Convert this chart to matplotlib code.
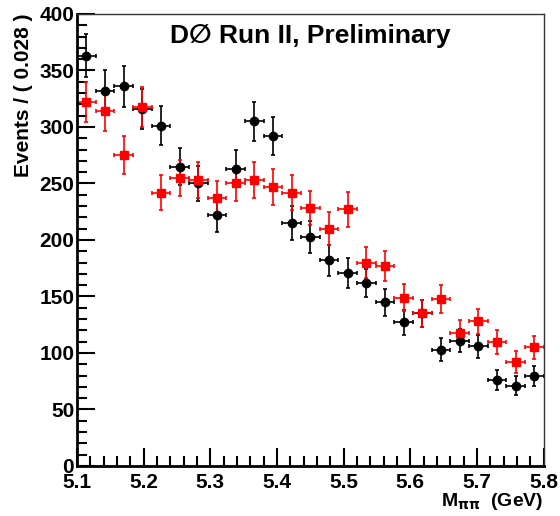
import numpy as np
import matplotlib
matplotlib.use("Agg")
import matplotlib.pyplot as plt
import matplotlib.ticker as mticker

plt.rcParams['font.family'] = ['Liberation Sans', 'DejaVu Sans']

bin_width = 0.028
x_centers = [5.114, 5.142, 5.170, 5.198, 5.226, 5.254, 5.282, 5.310, 5.338,
             5.366, 5.394, 5.422, 5.450, 5.478, 5.506, 5.534, 5.562, 5.590,
             5.618, 5.646, 5.674, 5.702, 5.730, 5.758, 5.786]

# черные точки
black_y = [363, 332, 336, 316, 301, 265, 250, 222, 263, 305, 292, 215, 203,
           182, 171, 162, 145, 127, 135, 103, 111, 106, 76, 71, 80]
black_err = [19.1, 18.2, 18.3, 17.8, 17.3, 16.3, 15.8, 14.9, 16.2, 17.5, 17.1,
             14.7, 14.2, 13.5, 13.1, 12.7, 12.0, 11.3, 11.6, 10.1, 10.5, 10.3,
             8.7, 8.4, 8.9]

# красные точки
red_y = [322, 314, 275, 318, 242, 255, 253, 237, 250, 253, 247, 242, 228,
         210, 227, 180, 177, 149, 135, 148, 118, 128, 110, 92, 105]
red_err = [17.9, 17.7, 16.6, 17.8, 15.6, 16.0, 15.9, 15.4, 15.8, 15.9, 15.7,
           15.6, 15.1, 14.5, 15.1, 13.4, 13.3, 12.2, 11.6, 12.2, 10.9, 11.3,
           10.5, 9.6, 10.2]

fig = plt.figure(figsize=(5.6, 5.16), dpi=100)
ax = fig.add_axes([0.1375, 0.0969, 0.8335, 0.876])

ax.errorbar(x_centers, black_y, yerr=black_err, xerr=bin_width / 2,
            fmt="o", color="black", ecolor="black", markersize=6,
            elinewidth=1.2, capsize=1.5, capthick=1.2)
ax.errorbar(x_centers, red_y, yerr=red_err, xerr=bin_width / 2,
            fmt="s", color="red", ecolor="red", markersize=6,
            elinewidth=1.2, capsize=1.5, capthick=1.2)

ax.set_xlim(5.1, 5.8)
ax.set_ylim(0, 400)

ax.xaxis.set_major_locator(mticker.MultipleLocator(0.1))
ax.xaxis.set_minor_locator(mticker.MultipleLocator(0.02))
ax.yaxis.set_major_locator(mticker.MultipleLocator(50))
ax.yaxis.set_minor_locator(mticker.MultipleLocator(10))
ax.xaxis.set_major_formatter(mticker.FormatStrFormatter("%.1f"))

ax.tick_params(which="both", direction="in", top=False, right=False,
               width=1.5, labelsize=15)
ax.tick_params(which="major", length=13)
ax.tick_params(which="minor", length=7)
ax.tick_params(axis="x", pad=5)
ax.tick_params(axis="y", pad=2)
for lab in ax.get_xticklabels() + ax.get_yticklabels():
    lab.set_fontweight("bold")

ax.spines["left"].set_linewidth(2)
ax.spines["bottom"].set_linewidth(2)
ax.spines["top"].set_linewidth(1)
ax.spines["right"].set_linewidth(1)
ax.spines["top"].set_color("#333333")
ax.spines["right"].set_color("#333333")

ax.set_ylabel("Events / ( 0.028 )", fontsize=15, fontweight="bold")
ax.yaxis.set_label_coords(-0.095, 1.0)
ax.yaxis.label.set_horizontalalignment("right")

ax.set_xlabel(r"M$_{\mathbf{\pi\pi}}$  (GeV)", fontsize=14, fontweight="bold")
ax.xaxis.set_label_coords(1.0, -0.055)
ax.xaxis.label.set_horizontalalignment("right")

ax.text(0.5, 0.936, "D\u2205 Run II, Preliminary", transform=ax.transAxes,
        ha="center", va="baseline", fontsize=19, fontweight="bold")

fig.savefig("out.png", dpi=100)
